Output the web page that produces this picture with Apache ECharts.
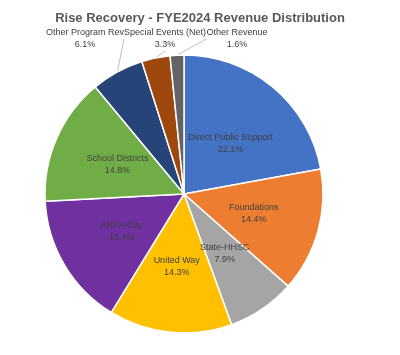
<!DOCTYPE html>
<html><head><meta charset="utf-8">
<script src="https://cdn.jsdelivr.net/npm/echarts@6/dist/echarts.min.js"></script>
<style>html,body{margin:0;padding:0;background:#fff}#c{width:400px;height:355px}</style>
</head><body><div id="c"></div>
<script>
const categories = ["Direct Public Support","Foundations","State-HHSC","United Way","ARPA-City","School Districts","Other Program Rev","Special Events (Net)","Other Revenue"];
const values = [22.1,14.4,7.9,14.3,15.4,14.8,6.1,3.3,1.6];
const colors = ["#4472C4","#ED7D31","#A5A5A5","#FFC000","#7030A0","#70AD47","#264478","#9E480E","#636363"];
const outside = {"Other Program Rev":[85,39],"Special Events (Net)":[165,39],"Other Revenue":[237,39]};

const chart = echarts.init(document.getElementById('c'));
const data = categories.map((n,i)=>{
  const d = {name:n, value:values[i], itemStyle:{color:colors[i]}};
  if (outside[n]) {
    d.label = {position:'outside', overflow:'none'};
    d.labelLine = {show:true, length:0, length2:0, lineStyle:{color:'#BFBFBF', width:1}};
  }
  if (n === "Direct Public Support") d.label = {offset:[0,5]};
  return d;
});
chart.setOption({
  animation:false,
  title:{text:'Rise Recovery - FYE2024 Revenue Distribution', left:'center', top:7,
    textStyle:{fontFamily:'Liberation Sans', fontSize:13, fontWeight:'bold', color:'#595959'}},
  series:[{
    type:'pie', center:[184,194], radius:139, startAngle:90, clockwise:true,
    data:data,
    itemStyle:{borderColor:'#fff', borderWidth:1.5},
    label:{position:'inside', formatter:p=>p.name+'\n'+p.value.toFixed(1)+'%',
      fontFamily:'Liberation Sans', fontSize:9, color:'#404040', lineHeight:12, align:'center'},
    labelLine:{show:false},
    labelLayout:function(p){
      const n = categories[p.dataIndex];
      if (outside[n]) return {x:outside[n][0], y:outside[n][1], align:'center', verticalAlign:'middle'};
      return {};
    }
  }]
});
</script></body></html>
